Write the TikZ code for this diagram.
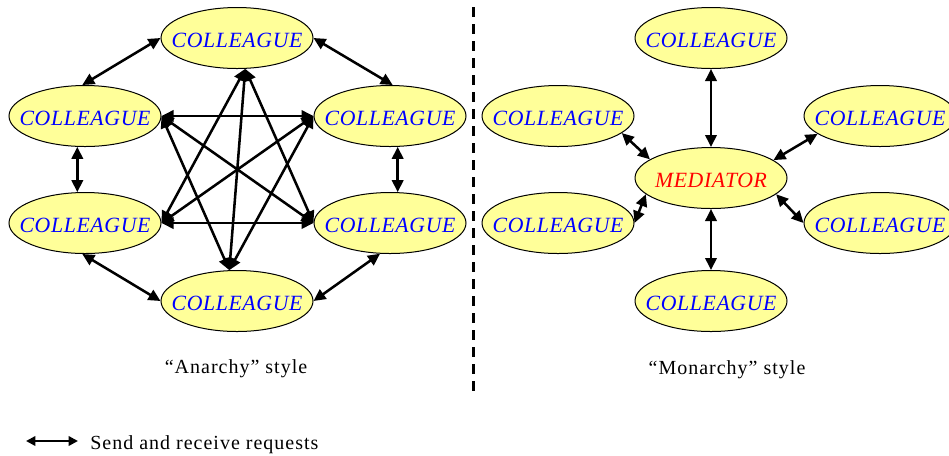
\documentclass[tikz,border=0pt]{standalone}
\usepackage{fontspec}
\setmainfont{Liberation Serif}
\usetikzlibrary{shapes.geometric,arrows.meta}
\definecolor{ellfill}{RGB}{255,255,153}
\definecolor{txtblue}{RGB}{0,0,255}
\definecolor{txtred}{RGB}{255,0,0}
\begin{document}
\begin{tikzpicture}[x=0.75pt,y=-0.75pt,
  ell/.style={ellipse, draw=black, line width=0.75pt, fill=ellfill,
    minimum width=114pt, minimum height=45.75pt, inner sep=0pt,
    label={[ctext]center:#1}},
  ctext/.style={font=\fontsize{16.3}{18}\selectfont\itshape\addfontfeature{LetterSpace=3}, text=txtblue,
    text height=14.5pt, text depth=0pt, inner sep=0pt},
  mtext/.style={ctext, text=txtred},
  biarrow/.style={{Triangle[length=9pt,width=8.5pt]}-{Triangle[length=9pt,width=8.5pt]}, line width=1.9pt},
  legarrow/.style={{Triangle[length=7pt,width=7pt]}-{Triangle[length=7pt,width=7pt]}, line width=1.7pt},
  divider/.style={line width=2.25pt, dash pattern=on 7.5pt off 5.25pt},
  lbl/.style={font=\fontsize{15}{17}\selectfont\addfontfeature{LetterSpace=5}}
]
\clip (0,0) rectangle (949,455);
\fill[white] (0,0) rectangle (949,455);

% ---- Anarchy ----
\node[ell=COLLEAGUE] (T)  at (237,38)  {};
\node[ell=COLLEAGUE] (LU) at (85,116)  {};
\node[ell=COLLEAGUE] (RU) at (390,116) {};
\node[ell=COLLEAGUE] (LL) at (85,223)  {};
\node[ell=COLLEAGUE] (RL) at (390,223) {};
\node[ell=COLLEAGUE] (B)  at (237,301) {};

\draw[biarrow] (T.west) -- (LU.95);
\draw[biarrow] (T.east) -- (RU.85);
\draw[biarrow] (LU.256) -- (LL.104);
\draw[biarrow] (RU.284) -- (RL.76);
\draw[biarrow] (LL.265) -- (B.west);
\draw[biarrow] (RL.252) -- (B.east);
\draw[biarrow] (LU.east) -- (RU.west);
\draw[biarrow] (LL.east) -- (RL.west);
\draw[biarrow] (LU.east) -- (RL.west);
\draw[biarrow] (LL.east) -- (RU.west);
\draw[biarrow] (T.285) -- (B.104);
\draw[biarrow] (T.285) -- (LL.east);
\draw[biarrow] (T.285) -- (RL.west);
\draw[biarrow] (B.104) -- (LU.east);
\draw[biarrow] (B.104) -- (RU.west);

\node[lbl, anchor=base] (lblA) at (236,373) {“Anarchy” style};

% ---- divider ----
\coordinate (d1) at (473,7);
\coordinate (d2) at (473,395);
\draw[divider] (d1) -- (d2);

% ---- Monarchy ----
\node[ellipse, draw=black, line width=0.75pt, fill=ellfill,
    minimum width=114pt, minimum height=45.75pt, inner sep=0pt,
    label={[mtext]center:MEDIATOR}] (M) at (711,178) {};
\node[ell=COLLEAGUE] (MT)  at (711,38)  {};
\node[ell=COLLEAGUE] (MLU) at (558,116) {};
\node[ell=COLLEAGUE] (MRU) at (880,116) {};
\node[ell=COLLEAGUE] (MLL) at (558,223) {};
\node[ell=COLLEAGUE] (MRL) at (880,223) {};
\node[ell=COLLEAGUE] (MB)  at (711,301) {};

\draw[biarrow] (MT.south) -- (M.north);
\draw[biarrow] (M.south) -- (MB.north);
\draw[biarrow] (MLU.345) -- (M.163);
\draw[biarrow] (MLL.east) -- (M.194);
\draw[biarrow] (MRU.196) -- (M.16);
\draw[biarrow] (MRL.west) -- (M.346);

\node[lbl, anchor=base] (lblM) at (727,374) {“Monarchy” style};

% ---- legend ----
\coordinate (la) at (26,441);
\coordinate (lb) at (78,441);
\draw[legarrow] (la) -- (lb);
\node[lbl, anchor=base west, inner sep=0pt] (legtxt) at (90,449) {Send and receive requests};
\end{tikzpicture}
\end{document}
